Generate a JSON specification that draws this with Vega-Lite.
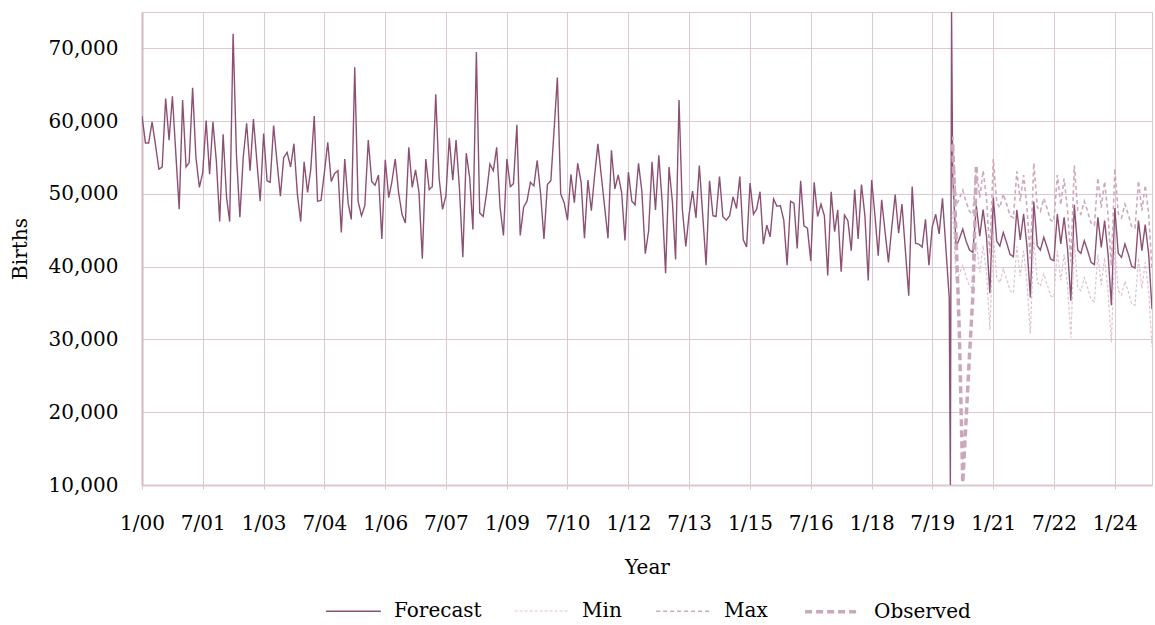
{
  "$schema": "https://vega.github.io/schema/vega-lite/v6.json",
  "width": 1010,
  "height": 473,
  "autosize": {"type": "none"},
  "padding": {"left": 142, "top": 12, "right": 3, "bottom": 140},
  "background": "white",
  "config": {
    "font": "DejaVu Serif",
    "view": {"stroke": "#DCC8D2", "strokeWidth": 1}
  },
  "data": {
    "values": [
      {"d":"2000-01-01","Forecast":60700},{"d":"2000-02-01","Forecast":57000},{"d":"2000-03-01","Forecast":57000},{"d":"2000-04-01","Forecast":59900},{"d":"2000-05-01","Forecast":56800},{"d":"2000-06-01","Forecast":53400},{"d":"2000-07-01","Forecast":53700},{"d":"2000-08-01","Forecast":63100},{"d":"2000-09-01","Forecast":57400},{"d":"2000-10-01","Forecast":63400},{"d":"2000-11-01","Forecast":55500},{"d":"2000-12-01","Forecast":47900},
      {"d":"2001-01-01","Forecast":62900},{"d":"2001-02-01","Forecast":53700},{"d":"2001-03-01","Forecast":54300},{"d":"2001-04-01","Forecast":64600},{"d":"2001-05-01","Forecast":55000},{"d":"2001-06-01","Forecast":50900},{"d":"2001-07-01","Forecast":52900},{"d":"2001-08-01","Forecast":60100},{"d":"2001-09-01","Forecast":52700},{"d":"2001-10-01","Forecast":59900},{"d":"2001-11-01","Forecast":54500},{"d":"2001-12-01","Forecast":46200},
      {"d":"2002-01-01","Forecast":58200},{"d":"2002-02-01","Forecast":49500},{"d":"2002-03-01","Forecast":46200},{"d":"2002-04-01","Forecast":72000},{"d":"2002-05-01","Forecast":55400},{"d":"2002-06-01","Forecast":46800},{"d":"2002-07-01","Forecast":55000},{"d":"2002-08-01","Forecast":59700},{"d":"2002-09-01","Forecast":53200},{"d":"2002-10-01","Forecast":60300},{"d":"2002-11-01","Forecast":54500},{"d":"2002-12-01","Forecast":49000},
      {"d":"2003-01-01","Forecast":58300},{"d":"2003-02-01","Forecast":51800},{"d":"2003-03-01","Forecast":51600},{"d":"2003-04-01","Forecast":59400},{"d":"2003-05-01","Forecast":54500},{"d":"2003-06-01","Forecast":49700},{"d":"2003-07-01","Forecast":55000},{"d":"2003-08-01","Forecast":55700},{"d":"2003-09-01","Forecast":53700},{"d":"2003-10-01","Forecast":56900},{"d":"2003-11-01","Forecast":50000},{"d":"2003-12-01","Forecast":46200},
      {"d":"2004-01-01","Forecast":54400},{"d":"2004-02-01","Forecast":50200},{"d":"2004-03-01","Forecast":53400},{"d":"2004-04-01","Forecast":60700},{"d":"2004-05-01","Forecast":49000},{"d":"2004-06-01","Forecast":49100},{"d":"2004-07-01","Forecast":52900},{"d":"2004-08-01","Forecast":57100},{"d":"2004-09-01","Forecast":51700},{"d":"2004-10-01","Forecast":52800},{"d":"2004-11-01","Forecast":53200},{"d":"2004-12-01","Forecast":44700},
      {"d":"2005-01-01","Forecast":54800},{"d":"2005-02-01","Forecast":48700},{"d":"2005-03-01","Forecast":46500},{"d":"2005-04-01","Forecast":67400},{"d":"2005-05-01","Forecast":49000},{"d":"2005-06-01","Forecast":47000},{"d":"2005-07-01","Forecast":48400},{"d":"2005-08-01","Forecast":57400},{"d":"2005-09-01","Forecast":51700},{"d":"2005-10-01","Forecast":51200},{"d":"2005-11-01","Forecast":52600},{"d":"2005-12-01","Forecast":43800},
      {"d":"2006-01-01","Forecast":54700},{"d":"2006-02-01","Forecast":49500},{"d":"2006-03-01","Forecast":51600},{"d":"2006-04-01","Forecast":54800},{"d":"2006-05-01","Forecast":50200},{"d":"2006-06-01","Forecast":47200},{"d":"2006-07-01","Forecast":46000},{"d":"2006-08-01","Forecast":56400},{"d":"2006-09-01","Forecast":50900},{"d":"2006-10-01","Forecast":53300},{"d":"2006-11-01","Forecast":50200},{"d":"2006-12-01","Forecast":41100},
      {"d":"2007-01-01","Forecast":54800},{"d":"2007-02-01","Forecast":50600},{"d":"2007-03-01","Forecast":51000},{"d":"2007-04-01","Forecast":63700},{"d":"2007-05-01","Forecast":52200},{"d":"2007-06-01","Forecast":47900},{"d":"2007-07-01","Forecast":49700},{"d":"2007-08-01","Forecast":57700},{"d":"2007-09-01","Forecast":51900},{"d":"2007-10-01","Forecast":57400},{"d":"2007-11-01","Forecast":50600},{"d":"2007-12-01","Forecast":41300},
      {"d":"2008-01-01","Forecast":55600},{"d":"2008-02-01","Forecast":52200},{"d":"2008-03-01","Forecast":45100},{"d":"2008-04-01","Forecast":69500},{"d":"2008-05-01","Forecast":47400},{"d":"2008-06-01","Forecast":46900},{"d":"2008-07-01","Forecast":50000},{"d":"2008-08-01","Forecast":54100},{"d":"2008-09-01","Forecast":53200},{"d":"2008-10-01","Forecast":56400},{"d":"2008-11-01","Forecast":48100},{"d":"2008-12-01","Forecast":44300},
      {"d":"2009-01-01","Forecast":54800},{"d":"2009-02-01","Forecast":51000},{"d":"2009-03-01","Forecast":51400},{"d":"2009-04-01","Forecast":59500},{"d":"2009-05-01","Forecast":44300},{"d":"2009-06-01","Forecast":48200},{"d":"2009-07-01","Forecast":49000},{"d":"2009-08-01","Forecast":51600},{"d":"2009-09-01","Forecast":51100},{"d":"2009-10-01","Forecast":54600},{"d":"2009-11-01","Forecast":50000},{"d":"2009-12-01","Forecast":43800},
      {"d":"2010-01-01","Forecast":51300},{"d":"2010-02-01","Forecast":51800},{"d":"2010-03-01","Forecast":58500},{"d":"2010-04-01","Forecast":66000},{"d":"2010-05-01","Forecast":50000},{"d":"2010-06-01","Forecast":48800},{"d":"2010-07-01","Forecast":46400},{"d":"2010-08-01","Forecast":52700},{"d":"2010-09-01","Forecast":48800},{"d":"2010-10-01","Forecast":54200},{"d":"2010-11-01","Forecast":51600},{"d":"2010-12-01","Forecast":43900},
      {"d":"2011-01-01","Forecast":51900},{"d":"2011-02-01","Forecast":47700},{"d":"2011-03-01","Forecast":52300},{"d":"2011-04-01","Forecast":56900},{"d":"2011-05-01","Forecast":52600},{"d":"2011-06-01","Forecast":48200},{"d":"2011-07-01","Forecast":43900},{"d":"2011-08-01","Forecast":56000},{"d":"2011-09-01","Forecast":50700},{"d":"2011-10-01","Forecast":52600},{"d":"2011-11-01","Forecast":50200},{"d":"2011-12-01","Forecast":43600},
      {"d":"2012-01-01","Forecast":53000},{"d":"2012-02-01","Forecast":49000},{"d":"2012-03-01","Forecast":48500},{"d":"2012-04-01","Forecast":54200},{"d":"2012-05-01","Forecast":50400},{"d":"2012-06-01","Forecast":41800},{"d":"2012-07-01","Forecast":44900},{"d":"2012-08-01","Forecast":54400},{"d":"2012-09-01","Forecast":47800},{"d":"2012-10-01","Forecast":55300},{"d":"2012-11-01","Forecast":48600},{"d":"2012-12-01","Forecast":39100},
      {"d":"2013-01-01","Forecast":53700},{"d":"2013-02-01","Forecast":48800},{"d":"2013-03-01","Forecast":41000},{"d":"2013-04-01","Forecast":62900},{"d":"2013-05-01","Forecast":47900},{"d":"2013-06-01","Forecast":42800},{"d":"2013-07-01","Forecast":47200},{"d":"2013-08-01","Forecast":50400},{"d":"2013-09-01","Forecast":46700},{"d":"2013-10-01","Forecast":53900},{"d":"2013-11-01","Forecast":47000},{"d":"2013-12-01","Forecast":40200},
      {"d":"2014-01-01","Forecast":51800},{"d":"2014-02-01","Forecast":47000},{"d":"2014-03-01","Forecast":46900},{"d":"2014-04-01","Forecast":52400},{"d":"2014-05-01","Forecast":46900},{"d":"2014-06-01","Forecast":46400},{"d":"2014-07-01","Forecast":47000},{"d":"2014-08-01","Forecast":49600},{"d":"2014-09-01","Forecast":48000},{"d":"2014-10-01","Forecast":52400},{"d":"2014-11-01","Forecast":43700},{"d":"2014-12-01","Forecast":42700},
      {"d":"2015-01-01","Forecast":51500},{"d":"2015-02-01","Forecast":47200},{"d":"2015-03-01","Forecast":47900},{"d":"2015-04-01","Forecast":50300},{"d":"2015-05-01","Forecast":43100},{"d":"2015-06-01","Forecast":45700},{"d":"2015-07-01","Forecast":44100},{"d":"2015-08-01","Forecast":49300},{"d":"2015-09-01","Forecast":48300},{"d":"2015-10-01","Forecast":48400},{"d":"2015-11-01","Forecast":46400},{"d":"2015-12-01","Forecast":40200},
      {"d":"2016-01-01","Forecast":49000},{"d":"2016-02-01","Forecast":48700},{"d":"2016-03-01","Forecast":42500},{"d":"2016-04-01","Forecast":51800},{"d":"2016-05-01","Forecast":45600},{"d":"2016-06-01","Forecast":45300},{"d":"2016-07-01","Forecast":40800},{"d":"2016-08-01","Forecast":51600},{"d":"2016-09-01","Forecast":46900},{"d":"2016-10-01","Forecast":48600},{"d":"2016-11-01","Forecast":47000},{"d":"2016-12-01","Forecast":38800},
      {"d":"2017-01-01","Forecast":50300},{"d":"2017-02-01","Forecast":44800},{"d":"2017-03-01","Forecast":47800},{"d":"2017-04-01","Forecast":39300},{"d":"2017-05-01","Forecast":47100},{"d":"2017-06-01","Forecast":46300},{"d":"2017-07-01","Forecast":42200},{"d":"2017-08-01","Forecast":50600},{"d":"2017-09-01","Forecast":43800},{"d":"2017-10-01","Forecast":51300},{"d":"2017-11-01","Forecast":47000},{"d":"2017-12-01","Forecast":38100},
      {"d":"2018-01-01","Forecast":51900},{"d":"2018-02-01","Forecast":46800},{"d":"2018-03-01","Forecast":41500},{"d":"2018-04-01","Forecast":49200},{"d":"2018-05-01","Forecast":44900},{"d":"2018-06-01","Forecast":40600},{"d":"2018-07-01","Forecast":45400},{"d":"2018-08-01","Forecast":49900},{"d":"2018-09-01","Forecast":44600},{"d":"2018-10-01","Forecast":48600},{"d":"2018-11-01","Forecast":42200},{"d":"2018-12-01","Forecast":36000},
      {"d":"2019-01-01","Forecast":51000},{"d":"2019-02-01","Forecast":43200},{"d":"2019-03-01","Forecast":43100},{"d":"2019-04-01","Forecast":42700},{"d":"2019-05-01","Forecast":46500},{"d":"2019-06-01","Forecast":40200},{"d":"2019-07-01","Forecast":45500},{"d":"2019-08-01","Forecast":47200},{"d":"2019-09-01","Forecast":44500},{"d":"2019-10-01","Forecast":49400},{"d":"2019-11-01","Forecast":42500},{"d":"2019-12-01","Forecast":35700},
      {"d":"2019-12-11","Forecast":10000},{"d":"2019-12-22","Forecast":75000},
      {"d":"2020-01-01","Forecast":52650,"Max":57900,"Min":47600,"Observed":56800},
      {"d":"2020-02-01","Forecast":42740,"Max":48500,"Min":38000,"Observed":44000},
      {"d":"2020-03-01","Forecast":43840,"Max":49300,"Min":39000,"Observed":31000},
      {"d":"2020-04-01","Forecast":45160,"Max":50500,"Min":40200,"Observed":10300},
      {"d":"2020-05-01","Forecast":43500,"Max":48900,"Min":38600,"Observed":19000},
      {"d":"2020-06-01","Forecast":42280,"Max":47600,"Min":37300,"Observed":28000},
      {"d":"2020-07-01","Forecast":41960,"Max":47200,"Min":37000,"Observed":36000},
      {"d":"2020-08-01","Forecast":48360,"Max":53700,"Min":43400,"Observed":53700},
      {"d":"2020-09-01","Forecast":44200,"Max":49500,"Min":39200},
      {"d":"2020-10-01","Forecast":47850,"Max":53200,"Min":42900},
      {"d":"2020-11-01","Forecast":44110,"Max":49400,"Min":39100},
      {"d":"2020-12-01","Forecast":36350,"Max":41700,"Min":31300},
      {"d":"2021-01-01","Forecast":49500,"Max":54800,"Min":44500},
      {"d":"2021-02-01","Forecast":43520,"Max":48800,"Min":38500},
      {"d":"2021-03-01","Forecast":42830,"Max":48100,"Min":37800},
      {"d":"2021-04-01","Forecast":44700,"Max":50000,"Min":39700},
      {"d":"2021-05-01","Forecast":43290,"Max":48600,"Min":38300},
      {"d":"2021-06-01","Forecast":41690,"Max":47000,"Min":36700},
      {"d":"2021-07-01","Forecast":41370,"Max":46700,"Min":36400},
      {"d":"2021-08-01","Forecast":47800,"Max":53100,"Min":42800},
      {"d":"2021-09-01","Forecast":43670,"Max":49000,"Min":38700},
      {"d":"2021-10-01","Forecast":47250,"Max":52600,"Min":42200},
      {"d":"2021-11-01","Forecast":42660,"Max":48000,"Min":37700},
      {"d":"2021-12-01","Forecast":35780,"Max":41100,"Min":30800},
      {"d":"2022-01-01","Forecast":48940,"Max":54250,"Min":43900},
      {"d":"2022-02-01","Forecast":42890,"Max":48200,"Min":37900},
      {"d":"2022-03-01","Forecast":42290,"Max":47600,"Min":37300},
      {"d":"2022-04-01","Forecast":44040,"Max":49400,"Min":39000},
      {"d":"2022-05-01","Forecast":42660,"Max":48000,"Min":37600},
      {"d":"2022-06-01","Forecast":41060,"Max":46400,"Min":36000},
      {"d":"2022-07-01","Forecast":40830,"Max":46200,"Min":35800},
      {"d":"2022-08-01","Forecast":47250,"Max":52600,"Min":42200},
      {"d":"2022-09-01","Forecast":43120,"Max":48500,"Min":38100},
      {"d":"2022-10-01","Forecast":46790,"Max":52100,"Min":41700},
      {"d":"2022-11-01","Forecast":42430,"Max":47800,"Min":37400},
      {"d":"2022-12-01","Forecast":35320,"Max":40700,"Min":30200},
      {"d":"2023-01-01","Forecast":48490,"Max":53900,"Min":43400},
      {"d":"2023-02-01","Forecast":42290,"Max":47700,"Min":37200},
      {"d":"2023-03-01","Forecast":41830,"Max":47200,"Min":36700},
      {"d":"2023-04-01","Forecast":43580,"Max":49000,"Min":38500},
      {"d":"2023-05-01","Forecast":42200,"Max":47600,"Min":37100},
      {"d":"2023-06-01","Forecast":40600,"Max":46000,"Min":35500},
      {"d":"2023-07-01","Forecast":40280,"Max":45700,"Min":35200},
      {"d":"2023-08-01","Forecast":46790,"Max":52200,"Min":41700},
      {"d":"2023-09-01","Forecast":42660,"Max":48100,"Min":37500},
      {"d":"2023-10-01","Forecast":46330,"Max":51700,"Min":41200},
      {"d":"2023-11-01","Forecast":41740,"Max":47100,"Min":36600},
      {"d":"2023-12-01","Forecast":34720,"Max":40100,"Min":29600},
      {"d":"2024-01-01","Forecast":48070,"Max":53500,"Min":42900},
      {"d":"2024-02-01","Forecast":41830,"Max":47300,"Min":36700},
      {"d":"2024-03-01","Forecast":41280,"Max":46700,"Min":36100},
      {"d":"2024-04-01","Forecast":43120,"Max":48600,"Min":38000},
      {"d":"2024-05-01","Forecast":41740,"Max":47200,"Min":36600},
      {"d":"2024-06-01","Forecast":40050,"Max":45500,"Min":34900},
      {"d":"2024-07-01","Forecast":39820,"Max":45300,"Min":34700},
      {"d":"2024-08-01","Forecast":46330,"Max":51800,"Min":41200},
      {"d":"2024-09-01","Forecast":42200,"Max":47700,"Min":37000},
      {"d":"2024-10-01","Forecast":45780,"Max":51200,"Min":40600},
      {"d":"2024-11-01","Forecast":41740,"Max":47200,"Min":36600},
      {"d":"2024-12-01","Forecast":34170,"Max":39700,"Min":29000}
    ]
  },
  "transform": [
    {"fold": ["Forecast", "Min", "Max", "Observed"], "as": ["s", "v"]},
    {"filter": "isValid(datum.v)"}
  ],
  "mark": {"type": "line", "clip": true, "strokeJoin": "miter", "strokeCap": "butt"},
  "encoding": {
    "x": {
      "field": "d",
      "type": "temporal",
      "scale": {
        "type": "utc",
        "domain": [
          {"year": 2000, "month": 1, "date": 1, "utc": true},
          {"year": 2024, "month": 12, "date": 1, "utc": true}
        ]
      },
      "axis": {
        "values": [
          {"year": 2000, "month": 1, "date": 1, "utc": true},
          {"year": 2001, "month": 7, "date": 1, "utc": true},
          {"year": 2003, "month": 1, "date": 1, "utc": true},
          {"year": 2004, "month": 7, "date": 1, "utc": true},
          {"year": 2006, "month": 1, "date": 1, "utc": true},
          {"year": 2007, "month": 7, "date": 1, "utc": true},
          {"year": 2009, "month": 1, "date": 1, "utc": true},
          {"year": 2010, "month": 7, "date": 1, "utc": true},
          {"year": 2012, "month": 1, "date": 1, "utc": true},
          {"year": 2013, "month": 7, "date": 1, "utc": true},
          {"year": 2015, "month": 1, "date": 1, "utc": true},
          {"year": 2016, "month": 7, "date": 1, "utc": true},
          {"year": 2018, "month": 1, "date": 1, "utc": true},
          {"year": 2019, "month": 7, "date": 1, "utc": true},
          {"year": 2021, "month": 1, "date": 1, "utc": true},
          {"year": 2022, "month": 7, "date": 1, "utc": true},
          {"year": 2024, "month": 1, "date": 1, "utc": true}
        ],
        "format": "%-m/%y",
        "labelFont": "DejaVu Serif",
        "labelFontSize": 20,
        "labelColor": "#000000",
        "labelPadding": 24,
        "labelFlush": false,
        "labelOverlap": false,
        "ticks": true,
        "tickSize": 4,
        "tickColor": "#DCC8D2",
        "domainColor": "#DCC8D2",
        "domainWidth": 2,
        "grid": true,
        "gridColor": "#DCC8D2",
        "gridWidth": 1,
        "title": "Year",
        "titleFont": "DejaVu Serif",
        "titleFontSize": 20,
        "titleFontWeight": "normal",
        "titleColor": "#000000",
        "titlePadding": 24
      }
    },
    "y": {
      "field": "v",
      "type": "quantitative",
      "scale": {"domain": [10000, 75000], "nice": false, "zero": false},
      "axis": {
        "values": [10000, 20000, 30000, 40000, 50000, 60000, 70000],
        "format": ",.0f",
        "labelFont": "DejaVu Serif",
        "labelFontSize": 20,
        "labelColor": "#000000",
        "labelPadding": 24,
        "ticks": false,
        "domainColor": "#D4B8C6",
        "domainWidth": 2,
        "grid": true,
        "gridColor": "#DCC8D2",
        "gridWidth": 1,
        "title": "Births",
        "titleFont": "DejaVu Serif",
        "titleFontSize": 20,
        "titleFontWeight": "normal",
        "titleColor": "#000000",
        "titlePadding": 18
      }
    },
    "color": {
      "field": "s",
      "type": "nominal",
      "scale": {
        "domain": ["Forecast", "Min", "Max", "Observed"],
        "range": ["#8C5073", "#DDC3D0", "#CDA9BB", "#C9A8BA"]
      },
      "legend": {
        "title": null,
        "orient": "none",
        "legendX": 183,
        "legendY": 570,
        "direction": "horizontal",
        "symbolType": "stroke",
        "symbolSize": 3000,
        "labelFont": "DejaVu Serif",
        "labelFontSize": 20,
        "labelColor": "#000000",
        "labelOffset": 12,
        "columnPadding": 30
      }
    },
    "strokeDash": {
      "field": "s",
      "type": "nominal",
      "scale": {
        "domain": ["Forecast", "Min", "Max", "Observed"],
        "range": [[1, 0], [3, 2], [4, 3], [7, 4]]
      },
      "legend": {
        "title": null,
        "orient": "none",
        "legendX": 183,
        "legendY": 570,
        "direction": "horizontal",
        "symbolType": "stroke",
        "symbolSize": 3000,
        "labelFont": "DejaVu Serif",
        "labelFontSize": 20,
        "labelColor": "#000000",
        "labelOffset": 12,
        "columnPadding": 30
      }
    },
    "strokeWidth": {
      "field": "s",
      "type": "ordinal",
      "scale": {
        "type": "ordinal",
        "domain": ["Forecast", "Min", "Max", "Observed"],
        "range": [1.4, 1.2, 1.6, 3.5]
      },
      "legend": {
        "title": null,
        "orient": "none",
        "legendX": 183,
        "legendY": 570,
        "direction": "horizontal",
        "symbolType": "stroke",
        "symbolSize": 3000,
        "labelFont": "DejaVu Serif",
        "labelFontSize": 20,
        "labelColor": "#000000",
        "labelOffset": 12,
        "columnPadding": 30
      }
    }
  }
}
